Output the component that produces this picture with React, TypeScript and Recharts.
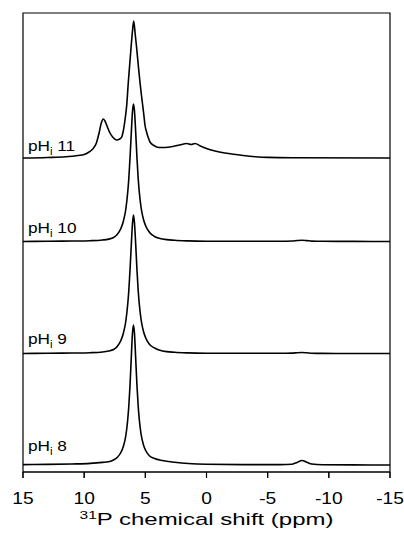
import { LineChart, Line, XAxis, YAxis, ReferenceDot, ReferenceArea, ReferenceLine } from "recharts";

// shared ppm grid for the three narrow spectra (pH 8, 9, 10)
const ppmGrid = [
  15, 13, 11, 9.5, 8.5, 8, 7.6, 7.3, 7.0, 6.8, 6.6, 6.45, 6.35, 6.25, 6.15, 6.05, 5.97,
  5.89, 5.79, 5.69, 5.59, 5.49, 5.35, 5.15, 4.95, 4.65, 4.25, 3.6, 2.6, 1.5, 0, -3, -6,
  -7, -7.4, -7.8, -8.2, -8.6, -9.5, -12, -15,
];

const ph8 = [
  0.4, 0.6, 1, 1.6, 2.6, 3.3, 5, 7.5, 12.5, 18.5, 29, 44, 59, 80, 107, 132, 140,
  132, 107, 81, 60, 45, 31, 20, 14, 9, 6.5, 4.5, 2.8, 1.5, 0.7, 0.4, 0.4,
  0.8, 2.5, 4.5, 2.8, 1, 0.3, 0.1, 0,
];

const ph9 = [
  0, 0.2, 0.5, 0.8, 1.5, 2.5, 4, 7, 13, 20, 32, 48, 63, 84, 108, 130, 138.5,
  131, 110, 85, 64, 49, 34, 22, 15, 9, 5.5, 2.5, 1.2, 0.6, 0.3, 0.2, 0.2,
  0.4, 0.8, 1, 0.7, 0.3, 0.1, 0, 0,
];

const ph10 = [
  0, 0.2, 0.5, 0.8, 1.5, 2.4, 4, 7, 13, 20, 32, 48, 63, 84, 108, 130, 137.5,
  131, 110, 85, 64, 49, 34, 22, 15, 9, 5, 2.5, 1.2, 0.6, 0.3, 0.2, 0.2,
  0.5, 1, 1.3, 0.9, 0.4, 0.2, 0.1, 0,
];

// pH 11 has its own grid (extra peak at 8.4, shoulder and broad hump)
const ppm11 = [
  15, 13, 11.5, 10.5, 10, 9.6, 9.3, 9.0, 8.8, 8.6, 8.44, 8.3, 8.1, 7.89, 7.6, 7.34, 7.1,
  6.93, 6.82, 6.72, 6.62, 6.52, 6.39, 6.28, 6.17, 6.05, 5.95, 5.83, 5.71, 5.57, 5.44,
  5.33, 5.22, 5.12, 5.03, 4.9, 4.75, 4.62, 4.3, 3.9, 3.4, 2.74, 2.2, 1.62, 1.25, 0.94,
  0.5, 0, -0.7, -1.5, -2.2, -3, -4, -5, -7, -15,
];

const ph11 = [
  0, 0.5, 1.2, 2.5, 3.5, 6, 9, 15, 24, 35, 39, 37, 31, 25, 20, 18, 19,
  21, 26, 33, 42, 53, 76, 93, 110, 127, 137, 124, 110, 92, 76,
  64, 53, 43, 33, 26, 20, 16, 12.5, 10.5, 10.5, 11.5, 13, 14.5, 13.5, 14.5,
  12, 9.5, 7, 5, 3.7, 2.5, 1.3, 0.6, 0.2, 0,
];

const series = [
  { name: "8", ppm: ppmGrid, values: ph8 },
  { name: "9", ppm: ppmGrid, values: ph9 },
  { name: "10", ppm: ppmGrid, values: ph10 },
  { name: "11", ppm: ppm11, values: ph11 },
];

// vertical stacking offset of each trace
const offsets = [7, 118.5, 230.5, 314];
// height of the pH label above each trace baseline
const labelRise = [14, 10, 9, 7];

const xTicks = [15, 10, 5, 0, -5, -10, -15];
const Y_MAX = 459;

const FONT = '"Liberation Sans", Arial, Helvetica, sans-serif';

function XTick(props: any) {
  const { x, y, payload } = props;
  return (
    <text
      transform={`translate(${x},${y + 24}) scale(1.2,1)`}
      textAnchor="middle"
      fontSize={16}
      fontFamily={FONT}
      fill="#000"
    >
      {payload.value}
    </text>
  );
}

function AxisTitle(props: any) {
  const vb = props.viewBox || { x: 23, y: 472, width: 367 };
  const cx = vb.x + vb.width / 2;
  return (
    <text
      x={cx}
      y={vb.y + 53}
      textAnchor="middle"
      fontSize={17}
      fontFamily={FONT}
      fill="#000"
      textLength={254}
      lengthAdjust="spacingAndGlyphs"
    >
      <tspan fontSize={11} dy={-6}>
        31
      </tspan>
      <tspan dy={6}>P chemical shift (ppm)</tspan>
    </text>
  );
}

function PhLabel(props: any) {
  const { cx, cy, text } = props;
  return (
    <text
      transform={`translate(${cx},${cy}) scale(1.15,1)`}
      fontSize={15}
      fontFamily={FONT}
      fill="#000"
    >
      pH
      <tspan fontSize={10} dy={4}>
        i
      </tspan>
      <tspan dy={-4}> {text}</tspan>
    </text>
  );
}

export default function App() {
  const lines = series.map((s, i) => ({
    name: s.name,
    data: s.ppm.map((p, j) => ({ ppm: p, y: s.values[j] + offsets[i] })),
  }));

  return (
    <div style={{ width: 404, height: 536, background: "#fff" }}>
      <style>{"body{margin:0}"}</style>
      <LineChart width={404} height={536} margin={{ top: 13, right: 14, bottom: 34, left: 23 }}>
        <XAxis
          dataKey="ppm"
          type="number"
          domain={[-15, 15]}
          reversed
          ticks={xTicks}
          tick={<XTick />}
          tickSize={6}
          height={30}
          stroke="#000"
          tickLine={{ stroke: "#000" }}
          axisLine={{ stroke: "#000", strokeWidth: 1.2 }}
          allowDataOverflow
          label={{ content: <AxisTitle /> }}
        />
        <YAxis
          type="number"
          domain={[0, Y_MAX]}
          width={0}
          tick={false}
          tickLine={false}
          axisLine={{ stroke: "#000", strokeWidth: 1.2 }}
        />
        {/* plot frame and outward ticks */}
        <ReferenceArea
          x1={15}
          x2={-15}
          y1={0}
          y2={Y_MAX}
          fill="none"
          fillOpacity={0}
          stroke="#000"
          strokeWidth={1.2}
          ifOverflow="visible"
        />
        {xTicks.map((t) => (
          <ReferenceLine
            key={"t" + t}
            segment={[
              { x: t, y: 0 },
              { x: t, y: -6 },
            ]}
            stroke="#000"
            strokeWidth={1.2}
            ifOverflow="visible"
          />
        ))}
        {lines.map((l) => (
          <Line
            key={l.name}
            data={l.data}
            dataKey="y"
            type="monotone"
            stroke="#000"
            strokeWidth={1.6}
            dot={false}
            isAnimationActive={false}
          />
        ))}
        {series.map((s, i) => (
          <ReferenceDot
            key={"lab" + s.name}
            x={14.6}
            y={offsets[i] + labelRise[i]}
            r={0}
            ifOverflow="visible"
            shape={(p: any) => <PhLabel cx={p.cx} cy={p.cy} text={s.name} />}
          />
        ))}
      </LineChart>
    </div>
  );
}
